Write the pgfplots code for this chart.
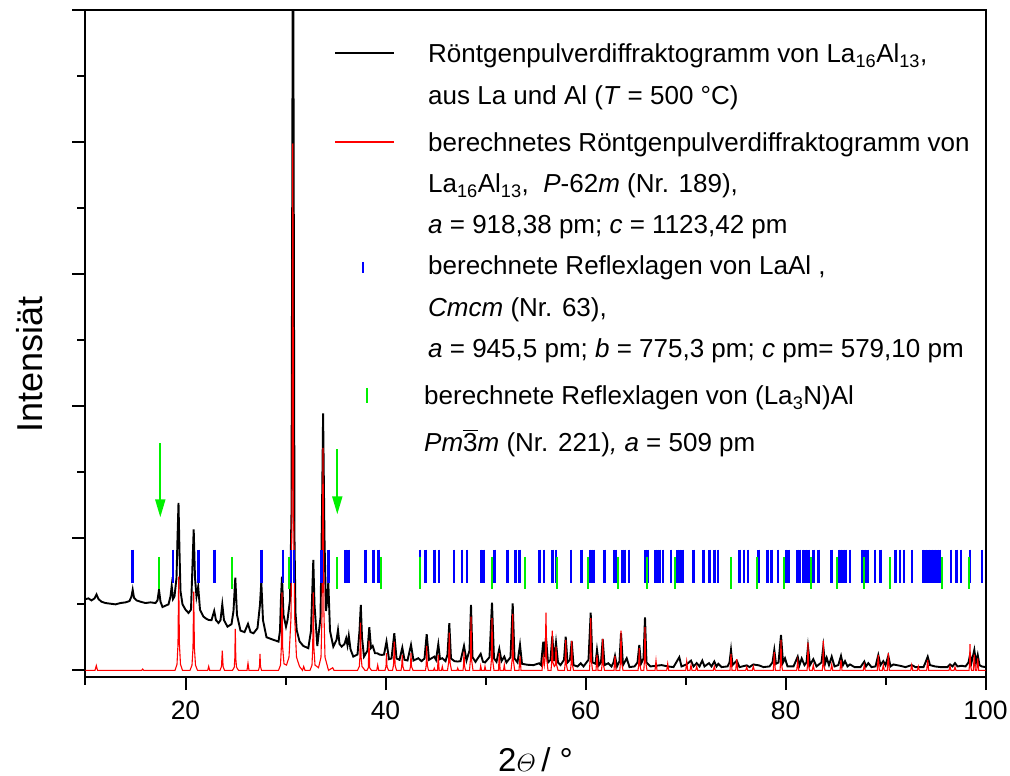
\documentclass[border=0pt]{standalone}
\usepackage{amsmath}
\usepackage{fontspec}
\setmainfont{Liberation Sans}
\usepackage{pgfplots}
\pgfplotsset{compat=1.18}
\usetikzlibrary{arrows.meta}
\definecolor{cgreen}{RGB}{0,240,0}
\definecolor{cblue}{RGB}{0,0,255}
\definecolor{cred}{RGB}{255,0,0}
\begin{document}
\begin{tikzpicture}
\useasboundingbox (-85.5pt,-99pt) rectangle (924.5pt,677pt);
\begin{axis}[
  at={(0pt,0pt)}, anchor=south west,
  scale only axis, width=900pt, height=667pt,
  xmin=10, xmax=100, ymin=-50, ymax=5000,
  axis line style={line width=2pt},
  xtick={20,40,60,80,100}, minor xtick={10,30,50,70,90},
  ytick={0,1000,2000,3000,4000,5000}, minor ytick={500,1500,2500,3500,4500},
  yticklabels={},
  tick align=outside, tick pos=left,
  major tick length=13pt, minor tick length=8pt,
  tick style={black, line width=2pt},
  /pgf/number format/assume math mode=true,
  ticklabel style={font=\fontsize{26.5}{30}\selectfont},
  xticklabel style={yshift=-7pt},
  xlabel={2$\varTheta$\,/ °},
  xlabel style={font=\fontsize{33}{38}\selectfont, at={(axis description cs:0.5,-0.141)}, anchor=base},
  ylabel={Intensiät},
  ylabel style={font=\fontsize{36}{42}\selectfont, at={(axis description cs:-0.0617,0.468)}, anchor=center},
  clip=true,
]
% observed pattern
\addplot[black, line width=1.9pt] table {
x y
10.0 540
10.3 545
10.6 530
10.9 545
11.1 575
11.3 540
11.6 520
12.0 510
12.5 505
13.0 500
13.5 510
14.0 515
14.4 525
14.6 560
14.72 610
14.85 550
15.1 530
15.5 520
16.0 510
16.5 515
17.0 510
17.2 530
17.35 609
17.5 520
17.7 480
18.0 490
18.3 500
18.5 560
18.62 639
18.75 540
18.9 560
19.1 700
19.2 1000
19.3 1269
19.4 900
19.5 600
19.7 500
20.0 460
20.3 435
20.55 460
20.7 800
20.82 1068
20.95 700
21.1 560
21.27 634
21.45 460
21.8 407
22.1 390
22.3 382
22.6 380
22.87 450
23.05 380
23.3 359
23.5 380
23.68 500
23.85 380
24.2 331
24.6 350
24.8 450
24.98 702
25.15 420
25.5 301
25.9 290
26.25 352
26.5 290
26.8 281
27.2 320
27.45 500
27.58 672
27.75 380
28.1 251
28.8 231
29.3 218
29.45 300
29.55 550
29.65 710
29.8 420
30.05 331
30.2 380
30.45 533
30.6 1200
30.7 4500
30.75 6000
30.8 4500
30.9 1000
31.0 435
31.12 306
31.4 220
31.78 185
32.28 168
32.55 300
32.7 650
32.78 836
32.9 500
33.18 185
33.5 400
33.65 1200
33.76 1946
33.9 1000
34.05 450
34.2 550
34.28 672
34.45 300
34.78 180
35.1 230
35.25 306
35.4 200
35.62 180
35.9 200
36.07 243
36.2 190
36.33 261
36.5 160
36.78 104
37.2 120
37.4 300
37.53 495
37.65 250
37.85 104
38.2 150
38.38 327
38.55 170
38.72 185
38.95 130
39.18 130
39.4 120
39.62 117
39.85 120
40.1 218
40.35 85
40.6 90
40.88 281
41.1 90
41.4 80
41.68 172
41.9 80
42.2 75
42.55 193
42.8 75
43.28 92
43.6 70
43.9 90
44.12 274
44.35 80
44.88 104
45.05 80
45.28 198
45.45 85
45.68 92
46.0 70
46.2 120
46.38 357
46.55 90
46.9 70
47.22 67
47.5 70
47.85 185
48.1 75
48.4 150
48.55 495
48.7 100
49.0 65
49.52 125
49.75 65
49.95 60
50.4 100
50.65 513
50.85 90
51.1 65
51.38 163
51.6 70
51.88 104
52.1 60
52.5 100
52.72 508
52.9 90
53.2 60
53.45 193
53.65 50
54.0 45
54.28 42
54.8 40
55.35 54
55.55 40
55.78 218
55.9 100
56.05 250
56.25 60
56.5 80
56.68 260
56.85 70
57.05 210
57.25 60
57.5 40
57.85 80
58.02 256
58.2 60
58.45 80
58.62 223
58.8 40
59.2 30
59.52 54
59.8 30
60.3 80
60.52 437
60.7 60
61.0 50
61.15 155
61.35 40
61.55 60
61.72 238
61.9 40
62.28 54
62.6 30
62.8 60
62.95 110
63.15 30
63.4 70
63.55 281
63.75 40
64.12 92
64.4 25
64.9 30
65.2 60
65.38 193
65.55 50
65.8 90
65.95 402
66.1 60
66.5 30
67.05 35
67.62 40
68.22 30
68.8 25
69.38 100
69.6 30
70.1 45
70.55 74
70.8 30
71.12 55
71.4 30
71.68 74
71.9 30
72.35 55
72.6 30
72.88 67
73.1 30
73.28 50
73.6 25
74.2 30
74.4 60
74.55 155
74.7 40
75.12 74
75.4 25
76.12 38
76.4 25
76.78 45
77.35 38
77.8 25
78.4 30
78.7 60
78.88 155
79.05 50
79.3 60
79.55 268
79.75 60
79.95 92
80.2 30
80.8 30
81.22 104
81.4 40
81.62 90
81.9 40
82.1 60
82.25 180
82.45 40
82.78 85
83.1 30
83.6 60
83.78 180
83.95 50
84.12 95
84.35 40
84.62 104
84.9 30
85.28 40
85.55 110
85.75 40
85.95 70
86.2 30
86.45 45
86.9 25
87.5 25
87.88 67
88.05 30
88.28 55
88.6 25
89.0 30
89.28 116
89.5 40
89.78 70
90.0 40
90.28 110
90.5 30
90.78 45
91.45 35
92.0 25
92.62 40
93.0 25
93.8 25
94.0 60
94.22 104
94.45 40
94.95 30
95.5 25
96.2 25
96.45 45
96.7 30
96.95 55
97.2 30
97.62 35
98.0 30
98.3 60
98.45 117
98.6 60
98.88 155
99.05 60
99.22 117
99.4 40
99.62 30
100.0 25
};
% calculated pattern
\addplot[cred, line width=1.1pt] table {
x y
10 0
10.95 0
11.08 36
11.2 0
15.62 0
15.72 10
15.82 0
18.95 0
19.15 45
19.25 200
19.32 710
19.39 200
19.5 45
19.7 0
20.45 0
20.65 40
20.75 170
20.82 596
20.89 170
21.0 40
21.2 0
22.22 0
22.32 30
22.42 0
23.45 0
23.6 30
23.68 150
23.76 30
23.9 0
24.7 0
24.88 25
24.93 90
24.98 314
25.03 90
25.1 25
25.3 0
26.15 0
26.25 54
26.35 0
27.3 0
27.4 30
27.45 125
27.5 30
27.6 0
29.3 0
29.5 40
29.58 170
29.65 590
29.72 170
29.85 50
30.1 40
30.35 100
30.55 400
30.65 1200
30.73 3990
30.81 1200
30.92 400
31.1 100
31.4 30
31.7 0
31.82 30
31.95 0
32.45 0
32.65 40
32.72 170
32.78 590
32.84 170
32.95 40
33.3 20
33.55 100
33.66 450
33.75 1685
33.84 450
33.95 100
34.3 0
34.72 20
34.85 0
37.2 0
37.38 30
37.44 100
37.5 362
37.56 100
37.65 30
37.95 0
38.15 0
38.28 20
38.35 225
38.42 20
38.6 0
39.12 0
39.22 40
39.32 0
39.95 0
40.05 30
40.1 130
40.15 30
40.3 0
40.7 0
40.8 40
40.88 218
40.96 40
41.1 0
41.55 0
41.62 30
41.68 117
41.74 30
41.85 0
42.42 0
42.5 30
42.55 130
42.6 30
42.75 0
44.0 0
44.07 40
44.12 185
44.18 40
44.3 0
44.8 0
44.88 17
44.96 0
45.2 0
45.28 117
45.36 0
45.6 0
45.68 29
45.76 0
46.2 0
46.31 60
46.38 286
46.45 60
46.6 0
47.15 0
47.22 17
47.3 0
47.75 0
47.8 35
47.85 142
47.9 35
48.0 0
48.4 0
48.49 80
48.55 407
48.61 80
48.75 0
49.45 0
49.52 34
49.6 0
49.88 0
49.95 29
50.03 0
50.5 0
50.59 80
50.65 395
50.71 80
50.85 0
51.3 0
51.38 130
51.46 0
51.8 0
51.88 42
51.96 0
52.55 0
52.66 80
52.72 427
52.78 80
52.92 0
53.35 0
53.45 110
53.55 0
55.65 0
55.78 100
55.88 40
55.97 100
56.05 437
56.12 90
56.25 0
56.55 0
56.62 60
56.68 301
56.74 60
56.88 30
56.98 40
57.05 180
57.12 40
57.25 0
57.9 0
57.96 50
58.02 231
58.08 50
58.2 0
58.5 0
58.56 50
58.62 223
58.68 50
58.8 0
60.4 0
60.46 80
60.52 395
60.58 80
60.7 0
61.05 0
61.15 117
61.25 0
61.6 0
61.66 50
61.72 238
61.78 50
61.9 0
62.85 0
62.95 110
63.05 0
63.43 0
63.49 60
63.55 301
63.61 60
63.75 0
65.25 0
65.32 40
65.38 168
65.44 40
65.55 0
65.83 0
65.89 70
65.95 327
66.01 70
66.15 0
66.95 0
67.05 74
67.15 0
68.12 0
68.22 50
68.32 0
70.02 0
70.12 67
70.22 0
70.45 0
70.55 40
70.65 0
71.02 0
71.12 30
71.22 0
72.78 0
72.88 30
72.98 0
74.45 0
74.55 125
74.65 0
75.02 0
75.12 85
75.22 0
76.02 0
76.12 25
76.22 0
76.68 0
76.78 30
76.88 0
78.78 0
78.88 138
78.98 0
79.45 0
79.5 50
79.55 231
79.6 50
79.7 0
81.12 0
81.22 70
81.32 0
82.15 0
82.2 40
82.25 210
82.3 40
82.4 0
82.68 0
82.78 40
82.88 0
83.68 0
83.73 40
83.78 225
83.83 40
83.95 0
84.52 0
84.62 45
84.72 0
85.45 0
85.55 80
85.65 0
87.78 0
87.88 40
87.98 0
89.18 0
89.28 117
89.38 0
89.68 0
89.78 40
89.88 0
90.18 0
90.28 130
90.38 0
92.52 0
92.62 40
92.72 0
93.18 0
93.28 30
93.38 0
94.12 0
94.22 80
94.32 0
96.35 0
96.45 30
96.55 0
96.85 0
96.95 25
97.05 0
98.35 0
98.4 40
98.45 198
98.5 40
98.6 0
98.78 0
98.88 120
98.98 0
99.12 0
99.22 90
99.32 0
100 0
};
% reflection positions LaAl
\addplot[only marks, mark=|, mark size=16.5pt, color=cblue, mark options={line width=2.6pt}] table {
x y
14.72 790
18.74 790
21.27 790
22.87 790
27.62 790
29.75 790
30.55 790
30.85 790
33.62 790
34.32 790
36.02 790
36.32 790
38.02 790
38.78 790
39.28 790
43.43 790
44.00 790
44.87 790
45.33 790
46.85 790
47.65 790
48.13 790
49.55 790
49.82 790
50.87 790
52.17 790
52.98 790
53.42 790
55.40 790
55.85 790
56.68 790
57.05 790
58.55 790
59.60 790
60.45 790
60.65 790
60.85 790
61.87 790
62.85 790
62.98 790
63.68 790
63.95 790
64.35 790
65.98 790
66.20 790
67.00 790
67.20 790
67.45 790
67.75 790
68.55 790
69.20 790
69.45 790
69.72 790
70.77 790
71.80 790
72.38 790
72.90 790
73.25 790
75.38 790
75.83 790
76.25 790
77.30 790
78.18 790
78.58 790
79.25 790
80.05 790
80.30 790
81.20 790
81.45 790
81.75 790
82.00 790
82.30 790
82.78 790
83.30 790
84.60 790
85.35 790
85.55 790
85.80 790
86.05 790
86.45 790
87.65 790
87.90 790
88.20 790
88.95 790
89.47 790
90.98 790
91.43 790
91.83 790
92.63 790
93.75 790
94.00 790
94.30 790
94.60 790
94.90 790
95.20 790
95.45 790
96.53 790
97.07 790
97.55 790
98.45 790
99.65 790
};
% reflection positions (La3N)Al
\addplot[only marks, mark=|, mark size=16pt, color=cgreen, mark options={line width=2pt}] table {
x y
17.35 739
24.68 739
30.35 739
35.15 739
39.52 739
43.48 739
50.62 739
53.92 739
57.10 739
60.20 739
63.22 739
66.12 739
68.95 739
74.52 739
77.18 739
79.87 739
82.50 739
85.18 739
87.85 739
90.45 739
95.68 739
98.33 739
};
\draw[cgreen, line width=2pt, -{Triangle[width=10pt,length=18pt]}] (axis cs:17.48,1720) -- (axis cs:17.48,1159);
\draw[cgreen, line width=2pt, -{Triangle[width=10pt,length=18pt]}] (axis cs:35.18,1674) -- (axis cs:35.18,1182);
\end{axis}
% legend
\draw[black, line width=1.2pt] (249.5pt,624pt) -- (308.8pt,624pt);
\draw[cred, line width=1.2pt] (249.5pt,535pt) -- (308.8pt,535pt);
\draw[cblue, line width=1.5pt] (277.5pt,415pt) -- (277.5pt,404pt);
\draw[cgreen, line width=1.6pt] (281.7pt,289pt) -- (281.7pt,274pt);
\begin{scope}[every node/.style={anchor=base west, inner sep=0pt, font=\fontsize{26}{31}\selectfont}]
\node at (342.5pt,614pt) {Röntgenpulverdiffraktogramm von La\textsubscript{16}Al\textsubscript{13},};
\node at (342.5pt,572pt) {aus La und Al (\textit{T} = 500 °C)};
\node at (342.5pt,525pt) {berechnetes Röntgenpulverdiffraktogramm von};
\node at (342.5pt,484pt) {La\textsubscript{16}Al\textsubscript{13},\ \ \textit{P}-62\textit{m} (Nr. 189),};
\node at (342.5pt,443pt) {\textit{a} = 918,38 pm; \textit{c} = 1123,42 pm};
\node at (342.5pt,402pt) {berechnete Reflexlagen von LaAl ,};
\node at (342.5pt,360pt) {\textit{Cmcm} (Nr. 63),};
\node at (342.5pt,319pt) {\textit{a} = 945,5 pm; \textit{b} = 775,3 pm; \textit{c} pm= 579,10 pm};
\node at (338.5pt,272pt) {berechnete Reflexlagen von (La\textsubscript{3}N)Al};
\node at (338.5pt,225pt) {\textit{Pm}$\overline{\hbox{3}}$\textit{m} (Nr. 221)\textit{,} \textit{a} = 509 pm};
\end{scope}
\end{tikzpicture}
\end{document}
